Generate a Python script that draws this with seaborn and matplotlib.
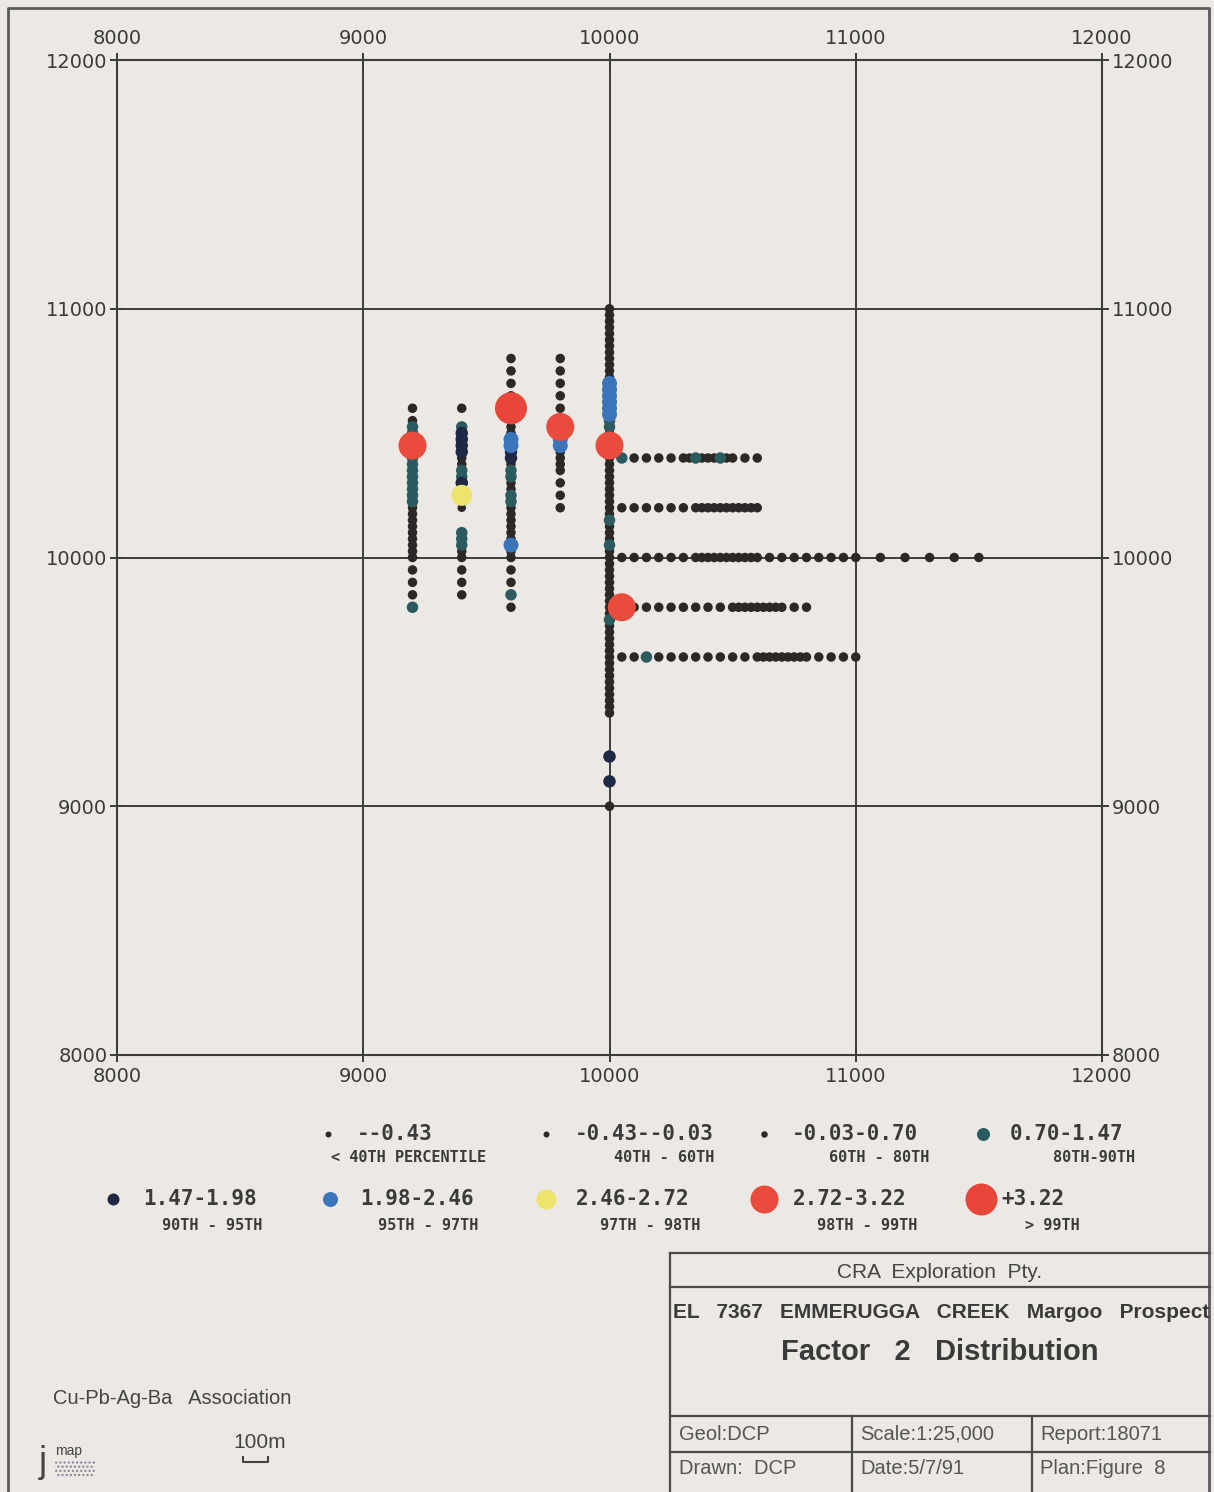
import numpy as np
import pandas as pd
import matplotlib
matplotlib.use("Agg")
import matplotlib.pyplot as plt
import seaborn as sns
from matplotlib.patches import Rectangle

# ---------------- data ----------------
cat_codes = list("abcdefghi")
cat_labels = ["--0.43", "-0.43--0.03", "-0.03-0.70", "0.70-1.47", "1.47-1.98",
              "1.98-2.46", "2.46-2.72", "2.72-3.22", "+3.22"]
pct_labels = ["< 40TH PERCENTILE", "40TH - 60TH", "60TH - 80TH", "80TH-90TH",
              "90TH - 95TH", "95TH - 97TH", "97TH - 98TH", "98TH - 99TH", "> 99TH"]

# north-south sample lines (easting constant)
ns_eastings = [9200, 9400, 9600, 9800, 10000]
ns_9200_y = [10600, 10550, 10525, 10500, 10475, 10450, 10425, 10400, 10375, 10350,
             10325, 10300, 10275, 10250, 10225, 10200, 10175, 10150, 10125, 10100,
             10075, 10050, 10025, 10000, 9950, 9900, 9850, 9800]
ns_9200_cat = "ccddch" + "ddddddddd" + "ccccccccc" + "ccc" + "d"
ns_9400_y = [10600, 10525, 10500, 10475, 10450, 10425, 10400, 10375, 10350, 10325,
             10300, 10275, 10250, 10200, 10100, 10075, 10050, 10025, 10000, 9950,
             9900, 9850]
ns_9400_cat = "c" + "d" + "eeee" + "cc" + "dd" + "e" + "c" + "g" + "b" + "ddd" + "cc" + "ccc"
ns_9600_y = [10800, 10750, 10700, 10650, 10600, 10525, 10500, 10475, 10450, 10425,
             10400, 10375, 10350, 10325, 10300, 10275, 10250, 10225, 10200, 10175,
             10150, 10125, 10100, 10075, 10050, 10025, 10000, 9950, 9900, 9850, 9800]
ns_9600_cat = "cccc" + "i" + "cc" + "ff" + "ee" + "c" + "dd" + "cc" + "dd" + "cccccc" + "f" + "cc" + "cc" + "d" + "c"
ns_9800_y = [10800, 10750, 10700, 10650, 10600, 10550, 10525, 10475, 10450, 10425,
             10400, 10375, 10350, 10300, 10250, 10200]
ns_9800_cat = "cccccc" + "h" + "ff" + "cccc" + "ccc"
ns_10000_y = [11000, 10975, 10950, 10925, 10900, 10875, 10850, 10825, 10800, 10775,
              10750, 10725, 10700, 10675, 10650, 10625, 10600, 10575, 10550, 10525,
              10500, 10475, 10450, 10425, 10400, 10375, 10350, 10325, 10300, 10275,
              10250, 10225, 10200, 10175, 10150, 10125, 10100, 10075, 10050, 10025,
              10000, 9975, 9950, 9925, 9900, 9875, 9850, 9825, 9800, 9775,
              9750, 9725, 9700, 9675, 9650, 9625, 9600, 9575, 9550, 9525,
              9500, 9475, 9450, 9425, 9400, 9375, 9200, 9100, 9000]
ns_10000_cat = ("c" * 12 + "f" * 6 + "dd" + "cc" + "h" + "c" * 11 + "d" + "ccc" + "d"
                + "c" * 11 + "d" + "c" * 15 + "ee" + "c")

# east-west sample lines (northing constant)
ew_northings = [10400, 10200, 10000, 9800, 9600]
ew_10400_x = [10050, 10100, 10150, 10200, 10250, 10300, 10325, 10350, 10375, 10400,
              10425, 10450, 10475, 10500, 10550, 10600]
ew_10400_cat = "dcccccc" + "d" + "ccc" + "d" + "cccc"
ew_10200_x = [10050, 10100, 10150, 10200, 10250, 10300, 10350, 10375, 10400, 10425,
              10450, 10475, 10500, 10525, 10550, 10575, 10600]
ew_10200_cat = "c" * 17
ew_10000_x = [10050, 10100, 10150, 10200, 10250, 10300, 10350, 10375, 10400, 10425,
              10450, 10475, 10500, 10525, 10550, 10575, 10600, 10650, 10700, 10750,
              10800, 10850, 10900, 10950, 11000, 11100, 11200, 11300, 11400, 11500]
ew_10000_cat = "c" * 30
ew_9800_x = [10050, 10100, 10150, 10200, 10250, 10300, 10350, 10400, 10450, 10500,
             10525, 10550, 10575, 10600, 10625, 10650, 10675, 10700, 10750, 10800]
ew_9800_cat = "h" + "c" * 19
ew_9600_x = [10050, 10100, 10150, 10200, 10250, 10300, 10350, 10400, 10450, 10500,
             10550, 10600, 10625, 10650, 10675, 10700, 10725, 10750, 10775, 10800,
             10850, 10900, 10950, 11000]
ew_9600_cat = "ccd" + "c" * 21

axis_ticks = [8000, 9000, 10000, 11000, 12000]
axis_tick_labels = ["8000", "9000", "10000", "11000", "12000"]

# ---------------- styles ----------------
PAPER = "#ece9e4"
INK = "#3a3a3a"
cat_colors = ["#2c2828", "#2c2828", "#2c2828", "#2b5a5f", "#1f2945",
              "#3a74ba", "#eee36c", "#e94b3d", "#e8463b"]
diam_plot = [7.5, 8.5, 9.5, 11.5, 12.5, 15, 21, 28, 32]
diam_legend = [6, 6, 6.5, 13, 12, 15, 20, 28, 32]

# ---------------- build table ----------------
ns_y = [ns_9200_y, ns_9400_y, ns_9600_y, ns_9800_y, ns_10000_y]
ns_c = [ns_9200_cat, ns_9400_cat, ns_9600_cat, ns_9800_cat, ns_10000_cat]
ew_x = [ew_10400_x, ew_10200_x, ew_10000_x, ew_9800_x, ew_9600_x]
ew_c = [ew_10400_cat, ew_10200_cat, ew_10000_cat, ew_9800_cat, ew_9600_cat]

code_to_label = dict(zip(cat_codes, cat_labels))
rows = []
for e, ys, cs in zip(ns_eastings, ns_y, ns_c):
    assert len(ys) == len(cs), (e, len(ys), len(cs))
    for y, c in zip(ys, cs):
        rows.append((e, y, c))
for n, xs, cs in zip(ew_northings, ew_x, ew_c):
    assert len(xs) == len(cs), (n, len(xs), len(cs))
    for x, c in zip(xs, cs):
        rows.append((x, n, c))
df = pd.DataFrame(rows, columns=["easting", "northing", "code"])
df["rank"] = df["code"].map({c: i for i, c in enumerate(cat_codes)})
df["class"] = df["code"].map(code_to_label)
df = df.sort_values("rank", kind="stable")

palette = dict(zip(cat_labels, cat_colors))
sizes = {lab: (d * 0.72) ** 2 for lab, d in zip(cat_labels, diam_plot)}

# ---------------- figure ----------------
W, H = 1214, 1492
fig = plt.figure(figsize=(W / 100, H / 100), dpi=100, facecolor=PAPER)

ov = fig.add_axes([0, 0, 1, 1])
ov.set_xlim(0, W)
ov.set_ylim(H, 0)
ov.axis("off")

ax = fig.add_axes([117 / W, 1 - 1055 / H, 985 / W, 995 / H])
ax.set_facecolor(PAPER)
sns.scatterplot(data=df, x="easting", y="northing", hue="class", size="class",
                hue_order=cat_labels, size_order=cat_labels, palette=palette,
                sizes=sizes, linewidth=0, legend=False, ax=ax, zorder=3)
ax.set_xlim(8000, 12000)
ax.set_ylim(8000, 12000)
ax.set_xticks(axis_ticks, axis_tick_labels)
ax.set_yticks(axis_ticks, axis_tick_labels)
ax.set_xlabel("")
ax.set_ylabel("")
ax.grid(True, color="#3d3d3d", lw=1.4)
ax.set_axisbelow(True)
for sp in ax.spines.values():
    sp.set_color("#3d3d3d")
    sp.set_linewidth(1.5)
ax.tick_params(axis="both", direction="inout", length=10, width=1.4,
               colors=INK, labelsize=14, top=True, right=True,
               labeltop=True, labelright=True)
ax.tick_params(axis="x", pad=4)
ax.tick_params(axis="y", pad=2)

# ---------------- outer frame ----------------
ov.plot([8, 8, 1209, 1209], [H, 8, 8, H], color="#5a5a5a", lw=2, clip_on=False)

# ---------------- legend ----------------
leg_marker = [(328, 1134), (546, 1134), (764, 1134), (983, 1134),
              (113, 1199), (330, 1199), (546, 1199), (764, 1199), (981, 1199)]
leg_text_x = [357, 575, 792, 1010, 143, 360, 576, 793, 1001]
leg_sub_x = [409, 714, 929, 1135, 262, 478, 700, 917, 1080]
leg_sub_y = [1157, 1157, 1157, 1157, 1226, 1226, 1226, 1226, 1226]
for i in range(9):
    mx, my = leg_marker[i]
    ov.scatter([mx], [my], s=(diam_legend[i] * 0.72) ** 2, color=cat_colors[i],
               linewidths=0, clip_on=False)
    ov.text(leg_text_x[i], my, cat_labels[i], ha="left", va="center",
            family="DejaVu Sans Mono", fontsize=15, weight="bold", color=INK)
    ov.text(leg_sub_x[i], leg_sub_y[i], pct_labels[i],
            ha="center" if i == 0 else "right", va="center",
            family="DejaVu Sans Mono", fontsize=11, weight="bold", color=INK)

# ---------------- title block ----------------
blk = dict(color="#4a4a4a", lw=1.6, clip_on=False)
for yy in [1253, 1287, 1416, 1452]:
    ov.plot([670, 1210], [yy, yy], **blk)
ov.plot([670, 670], [1253, H], **blk)
ov.plot([852, 852], [1416, H], **blk)
ov.plot([1032, 1032], [1416, H], **blk)

SANS = "Liberation Sans"
ov.text(940, 1272, "CRA  Exploration  Pty.", ha="center", va="center",
        family=SANS, fontsize=15, color="#444444")
ov.text(673, 1313, "EL   7367   EMMERUGGA   CREEK   Margoo   Prospect", ha="left",
        va="center", family=SANS, fontsize=15, weight="bold", color=INK)
ov.text(940, 1352, "Factor   2   Distribution", ha="center", va="center",
        family=SANS, fontsize=21, weight="bold", color=INK)
cell_text = [(679, 1434, "Geol:DCP"), (860, 1434, "Scale:1:25,000"),
             (1040, 1434, "Report:18071"), (679, 1469, "Drawn:  DCP"),
             (860, 1469, "Date:5/7/91"), (1040, 1469, "Plan:Figure  8")]
for x0, y0, t in cell_text:
    ov.text(x0, y0, t, ha="left", va="center", family=SANS, fontsize=14.5,
            color="#555555")

# ---------------- bottom-left notes ----------------
ov.text(53, 1398, "Cu-Pb-Ag-Ba   Association", ha="left", va="center",
        family=SANS, fontsize=14.5, color="#444444")
ov.text(233, 1442, "100m", ha="left", va="center", family=SANS, fontsize=15,
        color="#444444")
bar_px = 100 * 985 / 4000
ov.plot([243, 243, 243 + bar_px, 243 + bar_px], [1457, 1462, 1462, 1457],
        color="#444444", lw=1.5, clip_on=False)
ov.text(39, 1462, "j", ha="left", va="center", family=SANS, fontsize=26,
        color="#444444")
ov.text(55, 1451, "map", ha="left", va="center", family=SANS, fontsize=10,
        color="#444444")
ov.add_patch(Rectangle((55, 1460), 40, 18, fill=False, hatch="....",
                       edgecolor="#8a7a9a", lw=0, clip_on=False))

fig.savefig("out.png", dpi=100, facecolor=PAPER)
